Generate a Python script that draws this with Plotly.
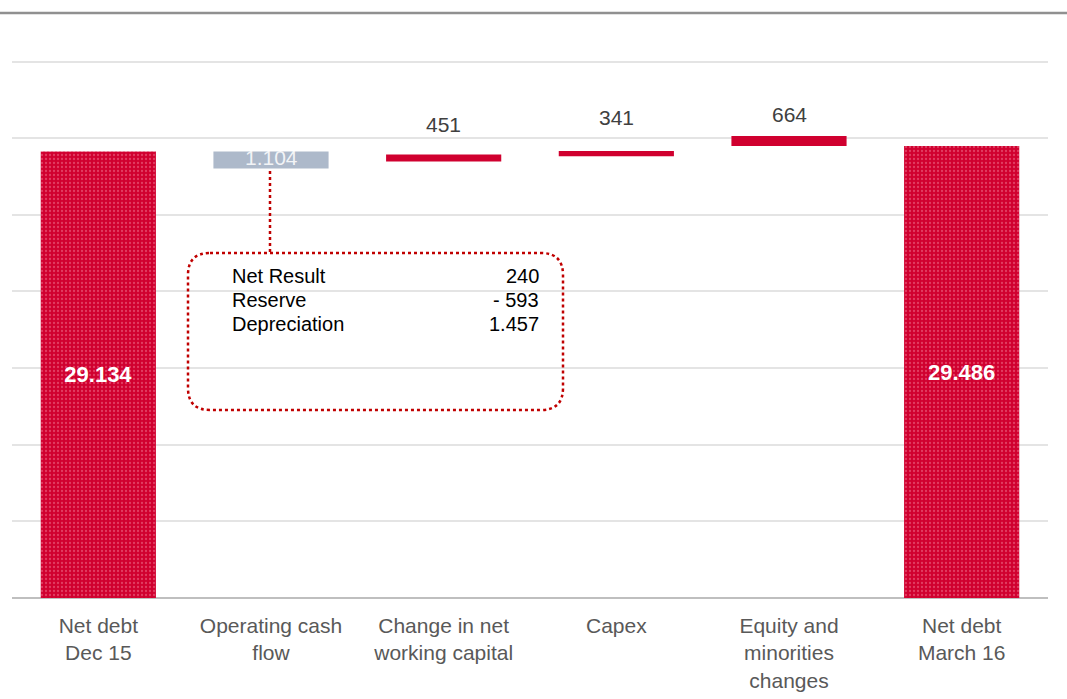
import plotly.graph_objects as go

# ---- data ----
categories = ["Net debt<br>Dec 15", "Operating cash<br>flow", "Change in net<br>working capital",
              "Capex", "Equity and<br>minorities<br>changes", "Net debt<br>March 16"]
total_values = [29134, 29486]
total_idx = [0, 5]
total_labels = ["29.134", "29.486"]
decrease_value = 1104
decrease_base = 28030
decrease_label = "1.104"
increase_values = [451, 341, 664]
increase_bases = [28481, 28822, 29486]
increase_idx = [2, 3, 4]
increase_labels = ["451", "341", "664"]
box_labels = ["Net Result", "Reserve", "Depreciation"]
box_values = ["240", "- 593", "1.457"]

# ---- style ----
RED = "#d0002f"
GRAY_BAR = "#adb9ca"
FONT = "Liberation Sans, Arial, sans-serif"
label_shifts = [30, 34, 21]
W = 0.667

fig = go.Figure()
fig.add_trace(go.Bar(
    x=[categories[i] for i in total_idx], y=total_values, width=W,
    marker=dict(color=RED, line=dict(width=0),
                pattern=dict(shape=".", fgcolor="#f27a96", size=4, solidity=0.25, fillmode="overlay")),
    text=["<b>%s</b>" % t for t in total_labels], textposition="inside", insidetextanchor="middle",
    textfont=dict(color="white", size=22, family=FONT), textangle=0,
))
fig.add_trace(go.Bar(
    x=[categories[1]], y=[decrease_value], base=[decrease_base], width=W,
    marker=dict(color=GRAY_BAR, line=dict(width=0)),
))
fig.add_trace(go.Bar(
    x=[categories[i] for i in increase_idx], y=increase_values, base=increase_bases, width=W,
    marker=dict(color=RED, line=dict(width=0)),
))

annotations = []
annotations.append(dict(x=categories[1], y=decrease_base + decrease_value / 2, text=decrease_label,
                        showarrow=False, yshift=2, font=dict(size=21, color="rgba(255,255,255,0.85)", family=FONT)))
for i, v, b, lab, sh in zip(increase_idx, increase_values, increase_bases, increase_labels, label_shifts):
    annotations.append(dict(x=categories[i], y=b + v, text=lab, showarrow=False, yshift=sh,
                            font=dict(size=21, color="#404040", family=FONT)))

# annotation box (pixel -> paper)
L, R, T, B = 12, 1048, 57, 598
def px(x):
    return (x - L) / (R - L)
def py(y):
    return (B - y) / (B - T)

rows_y = [276, 300, 324]
for lab, val, yy in zip(box_labels, box_values, rows_y):
    annotations.append(dict(xref="paper", yref="paper", x=px(230), y=py(yy), xanchor="left", yanchor="middle",
                            text=lab, showarrow=False, font=dict(size=20, color="black", family=FONT)))
    annotations.append(dict(xref="paper", yref="paper", x=px(541), y=py(yy), xanchor="right", yanchor="middle",
                            text=val, showarrow=False, font=dict(size=20, color="black", family=FONT)))

x0, x1, y0, y1 = px(188), px(563), py(253), py(410)
rx, ry = 22 / (R - L), 22 / (B - T)
path = (f"M {x0+rx},{y0} L {x1-rx},{y0} Q {x1},{y0} {x1},{y0-ry} L {x1},{y1+ry} Q {x1},{y1} {x1-rx},{y1} "
        f"L {x0+rx},{y1} Q {x0},{y1} {x0},{y1+ry} L {x0},{y0-ry} Q {x0},{y0} {x0+rx},{y0} Z")
shapes = [
    dict(type="path", xref="paper", yref="paper", path=path, line=dict(color="#c00000", width=2.5, dash="dot")),
    dict(type="line", xref="paper", yref="paper", x0=px(270), x1=px(270), y0=py(171), y1=py(253),
         line=dict(color="#c00000", width=2.5, dash="dot")),
    dict(type="line", xref="paper", yref="paper", x0=px(0), x1=px(1067), y0=py(13), y1=py(13),
         line=dict(color="#909090", width=2.5)),
]

fig.update_layout(
    width=1067, height=699, barmode="overlay", showlegend=False,
    margin=dict(l=L, r=1067 - R, t=T, b=699 - B),
    plot_bgcolor="white", paper_bgcolor="white",
    font=dict(family=FONT),
    annotations=annotations, shapes=shapes,
    xaxis=dict(tickfont=dict(size=21, color="#595959", family=FONT), showgrid=False, ticks="",
               showline=False, categoryorder="array", categoryarray=categories, ticklabelstandoff=13,
               automargin=False),
    yaxis=dict(range=[0, 35300], tickvals=[0, 5000, 10000, 15000, 20000, 25000, 30000, 35000],
               showticklabels=False, showgrid=True, automargin=False,
               gridcolor="#e4e4e4", gridwidth=1.5, zeroline=True, zerolinecolor="#bfbfbf", zerolinewidth=2),
)
fig.write_html("out.html")
